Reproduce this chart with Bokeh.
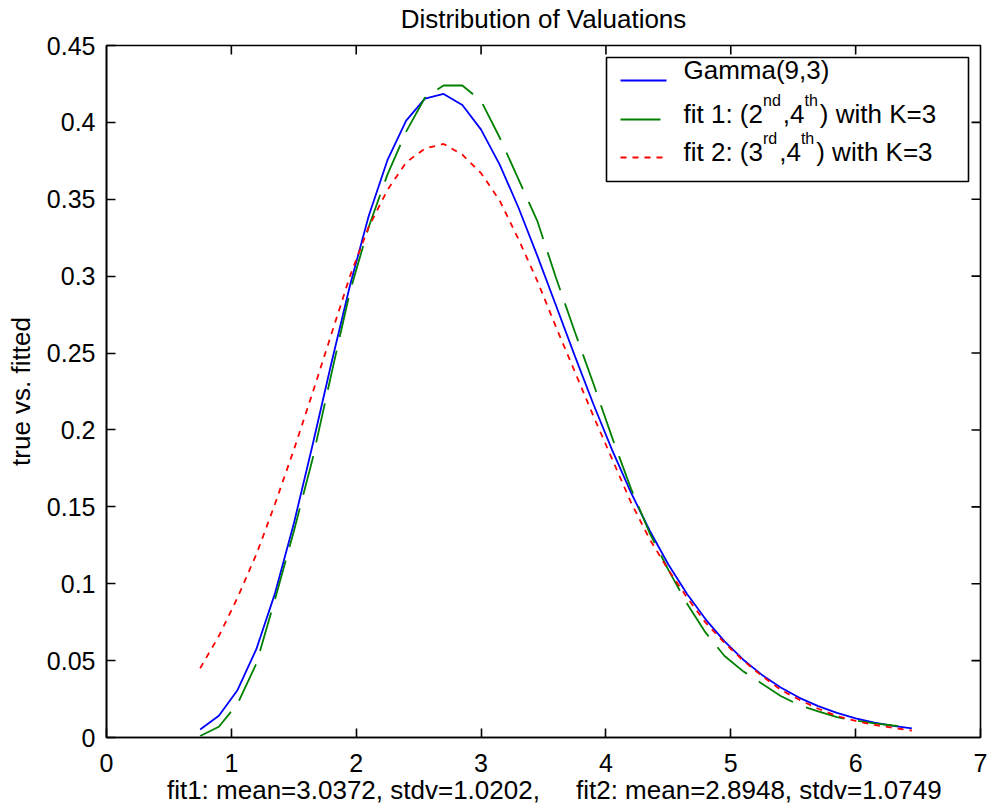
import re
from bokeh.plotting import figure
from bokeh.models import Range1d, FixedTicker, LinearAxis
from bokeh.core.properties import value
from bokeh.embed import file_html
from bokeh.resources import INLINE

# ---------------- data ----------------
x_vals = [0.75, 0.90, 1.05, 1.20, 1.35, 1.50, 1.65, 1.80, 1.95, 2.10, 2.25, 2.40, 2.55,
          2.70, 2.85, 3.00, 3.15, 3.30, 3.45, 3.60, 3.75, 3.90, 4.05, 4.20, 4.35, 4.50,
          4.65, 4.80, 4.95, 5.10, 5.25, 5.40, 5.55, 5.70, 5.85, 6.00, 6.15, 6.30, 6.45]

gamma_true = [0.0052, 0.0141, 0.0309, 0.0574, 0.0939, 0.1390, 0.1900, 0.2430, 0.2939,
              0.3391, 0.3754, 0.4012, 0.4155, 0.4185, 0.4113, 0.3953, 0.3724, 0.3445,
              0.3134, 0.2809, 0.2483, 0.2167, 0.1869, 0.1594, 0.1346, 0.1125, 0.0933,
              0.0767, 0.0625, 0.0506, 0.0407, 0.0325, 0.0258, 0.0204, 0.0160, 0.0125,
              0.0097, 0.0075, 0.0060]

fit1 = [0.0010, 0.0070, 0.0220, 0.0480, 0.0900, 0.1340, 0.1810, 0.2360, 0.2900,
        0.3320, 0.3660, 0.3940, 0.4160, 0.4240, 0.4240, 0.4140, 0.3900, 0.3630,
        0.3360, 0.2990, 0.2640, 0.2300, 0.1950, 0.1620, 0.1330, 0.1090, 0.0870,
        0.0680, 0.0530, 0.0430, 0.0350, 0.0270, 0.0210, 0.0170, 0.0132, 0.0110,
        0.0092, 0.0078, 0.0067]

fit2 = [0.0450, 0.0660, 0.0910, 0.1190, 0.1520, 0.1870, 0.2240, 0.2620, 0.3000,
        0.3320, 0.3560, 0.3740, 0.3830, 0.3860, 0.3790, 0.3670, 0.3490, 0.3240,
        0.2970, 0.2670, 0.2380, 0.2090, 0.1810, 0.1530, 0.1290, 0.1090, 0.0910,
        0.0745, 0.0615, 0.0500, 0.0400, 0.0310, 0.0245, 0.0187, 0.0140, 0.0108,
        0.0082, 0.0063, 0.0045]

x_ticks = [0, 1, 2, 3, 4, 5, 6, 7]
x_tick_labels = ["0", "1", "2", "3", "4", "5", "6", "7"]
y_ticks = [0.0, 0.05, 0.1, 0.15, 0.2, 0.25, 0.3, 0.35, 0.4, 0.45]
y_tick_labels = ["0", "0.05", "0.1", "0.15", "0.2", "0.25", "0.3", "0.35", "0.4", "0.45"]

title_text = "Distribution of Valuations"
y_label = "true vs. fitted"
x_label = "fit1: mean=3.0372, stdv=1.0202,     fit2: mean=2.8948, stdv=1.0749"

# legend rows: list of (text, is_superscript)
legend_rows = [
    [("Gamma(9,3)", False)],
    [("fit 1: (2", False), ("nd", True), (",4", False), ("th", True), (") with K=3", False)],
    [("fit 2: (3", False), ("rd", True), (",4", False), ("th", True), (") with K=3", False)],
]

# ---------------- styling / layout ----------------
FONT = "Liberation Sans"
MAIN_PX = 26
SUP_PX = 16
TICK_PX = 25
BLUE, GREEN, RED = "#0000FF", "#008000", "#FF0000"
AXIS_W = 1.6
TICK_LEN = 9

W, H = 987, 810
B_LEFT, B_RIGHT, B_TOP, B_BOTTOM = 106, 7, 45, 73
FRAME_W = W - B_LEFT - B_RIGHT
FRAME_H = H - B_TOP - B_BOTTOM
X0, X1, Y0, Y1 = 0, 7, 0, 0.45
SX = FRAME_W / (X1 - X0)
SY = FRAME_H / (Y1 - Y0)

# Arial / Liberation Sans advance widths (1/1000 em) for legend text layout
ADV = {' ': 278, '(': 333, ')': 333, ',': 278, '.': 278, ':': 278, '=': 584,
       'K': 667, 'G': 778, 'a': 556, 'd': 556, 'e': 556, 'f': 278, 'h': 556,
       'i': 222, 'm': 833, 'n': 556, 'r': 333, 't': 278, 'w': 722}
for dgt in "0123456789":
    ADV[dgt] = 556


def text_width(s, px):
    return sum(ADV.get(c, 556) for c in s) * px / 1000.0


def lx(px_from_right):
    return X1 + px_from_right / SX


def ly(px_from_top):
    return Y1 - px_from_top / SY


p = figure(width=W, height=H,
           x_range=Range1d(X0, X1), y_range=Range1d(Y0, Y1),
           output_backend="svg", toolbar_location=None,
           min_border_left=B_LEFT, min_border_right=B_RIGHT,
           min_border_top=B_TOP, min_border_bottom=B_BOTTOM)
p.background_fill_color = "white"
p.border_fill_color = "white"
p.outline_line_color = "black"
p.outline_line_width = AXIS_W
p.xgrid.grid_line_color = None
p.ygrid.grid_line_color = None

# curves
p.line(x_vals, gamma_true, line_color=BLUE, line_width=1.8)
p.line(x_vals, fit1, line_color=GREEN, line_width=1.8, line_dash="40 14")
p.line(x_vals, fit2, line_color=RED, line_width=1.8, line_dash="6 6")


def style_axis(ax, ticks, labels, standoff):
    ax.ticker = FixedTicker(ticks=ticks)
    ax.major_label_overrides = {t: l for t, l in zip(ticks, labels)}
    ax.major_tick_in = TICK_LEN
    ax.major_tick_out = 0
    ax.minor_tick_line_color = None
    ax.axis_line_color = "black"
    ax.axis_line_width = AXIS_W
    ax.major_tick_line_color = "black"
    ax.major_tick_line_width = AXIS_W
    ax.major_label_text_font = FONT
    ax.major_label_text_color = "black"
    ax.major_label_text_font_size = f"{TICK_PX}px"
    ax.major_label_standoff = standoff
    ax.axis_label_text_font = FONT
    ax.axis_label_text_font_size = f"{MAIN_PX}px"
    ax.axis_label_text_font_style = "normal"
    ax.axis_label_text_color = "black"


xa = p.xaxis[0]
ya = p.yaxis[0]
style_axis(xa, x_ticks, x_tick_labels, 16)
style_axis(ya, y_ticks, y_tick_labels, 11)
# keep the wide gap between the two fit summaries (SVG collapses plain spaces);
# a small leading pad reproduces the reference's slightly right-shifted label
xa.axis_label = "\u00a0" * 3 + re.sub(r" {2,}", lambda m: "\u00a0" * len(m.group(0)), x_label)
xa.axis_label_standoff = 0
ya.axis_label = y_label
ya.axis_label_standoff = 8

# title: carried by a tick-less axis above the frame so it can sit high in the margin
title_axis = LinearAxis(ticker=FixedTicker(ticks=[]), axis_line_color=None,
                        major_tick_line_color=None, minor_tick_line_color=None,
                        major_tick_in=0, major_tick_out=0, major_label_standoff=0,
                        axis_label=title_text, axis_label_standoff=12,
                        axis_label_text_font=FONT,
                        axis_label_text_font_size=f"{MAIN_PX}px",
                        axis_label_text_font_style="normal",
                        axis_label_text_color="black")
p.add_layout(title_axis, "above")

# inward ticks on the top and right edges of the box
top_ticks = [t for t in x_ticks if X0 < t < X1]
p.segment(x0=top_ticks, y0=[Y1] * len(top_ticks), x1=top_ticks,
          y1=[Y1 - TICK_LEN / SY] * len(top_ticks),
          line_color="black", line_width=AXIS_W)
right_ticks = [t for t in y_ticks if Y0 < t < Y1]
p.segment(x0=[X1] * len(right_ticks), y0=right_ticks,
          x1=[X1 - TICK_LEN / SX] * len(right_ticks), y1=right_ticks,
          line_color="black", line_width=AXIS_W)

# legend (box, sample lines, texts), positions in px from the frame's top-right
LEG_BOX = (-374, -12, 12, 136)          # left, right, top, bottom
LEG_LINE_X = (-360, -314)
LEG_LINE_Y = [35, 74, 112]
LEG_TEXT_X = -297
LEG_BASE_Y = [24, 68, 106]
SUP_RAISE = 13
SUP_GAP = 2

p.quad(left=[lx(LEG_BOX[0])], right=[lx(LEG_BOX[1])],
       top=[ly(LEG_BOX[2])], bottom=[ly(LEG_BOX[3])],
       fill_color="white", line_color="black", line_width=AXIS_W)

styles = [dict(line_color=BLUE, line_width=1.8),
          dict(line_color=GREEN, line_width=1.8, line_dash="40 14"),
          dict(line_color=RED, line_width=1.8, line_dash="6 6")]
for yy, st in zip(LEG_LINE_Y, styles):
    p.line([lx(LEG_LINE_X[0]), lx(LEG_LINE_X[1])], [ly(yy), ly(yy)], **st)

for row, base in zip(legend_rows, LEG_BASE_Y):
    xoff = LEG_TEXT_X
    for txt, sup in row:
        size = SUP_PX if sup else MAIN_PX
        p.text(x=[lx(xoff)], y=[ly(base - (SUP_RAISE if sup else 0))], text=[txt],
               text_font=value(FONT), text_font_size=value(f"{size}px"),
               text_color="black", text_align="left", text_baseline="alphabetic")
        xoff += text_width(txt, size) + (SUP_GAP if sup else 0)

open("out.html", "w").write(file_html(p, INLINE))
